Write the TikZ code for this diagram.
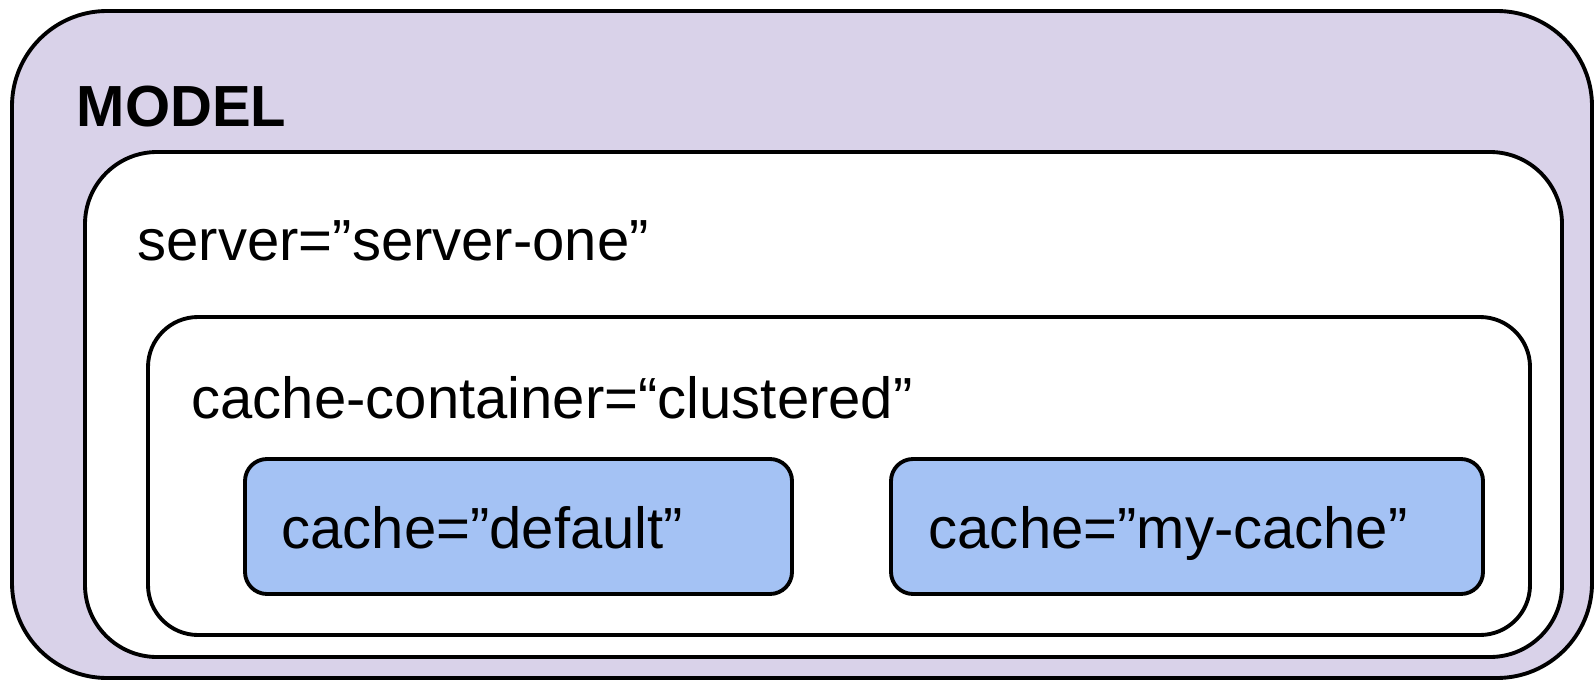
\documentclass[tikz,border=0pt]{standalone}
\usepackage{fontspec}
\setmainfont{Liberation Sans}
\definecolor{modelfill}{HTML}{D9D2E9}
\definecolor{cachefill}{HTML}{A4C2F4}
\tikzset{
	box/.style={draw=black, line width=1.1pt},
	boxtext/.style={anchor=base west, inner sep=0pt, font=\fontsize{16.5}{20}\selectfont},
}

\begin{document}
\begin{tikzpicture}[x=0.01cm, y=-0.01cm, line join=round, line cap=round]
	\useasboundingbox (0,0) rectangle (1594,682);
	
	\draw[box, fill=modelfill, rounded corners=0.95cm] (12,11) rectangle (1592,678);
	\draw[box, fill=white, rounded corners=0.72cm] (85,152) rectangle (1562,657);
	\draw[box, fill=white, rounded corners=0.5cm] (148,317) rectangle (1530,635);
	\draw[box, fill=cachefill, rounded corners=0.22cm] (245,459) rectangle (792,594);
	\draw[box, fill=cachefill, rounded corners=0.22cm] (891,459) rectangle (1483,594);
	
	\node[boxtext, font=\fontsize{16.5}{20}\selectfont\bfseries] (model) at (76,127) {MODEL};
	\node[boxtext] (server) at (137,260) {server=”server-one”};
	\node[boxtext] (container) at (191,418) {cache-container=“clustered”};
	\node[boxtext] (default) at (281,548) {cache=”default”};
	\node[boxtext] (mycache) at (928,548) {cache=”my-cache”};
\end{tikzpicture}
\end{document}
